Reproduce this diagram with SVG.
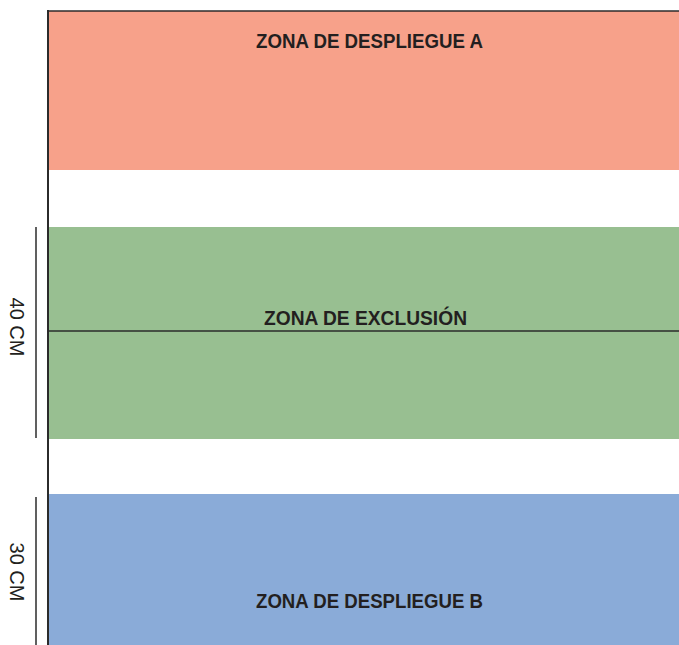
<svg xmlns="http://www.w3.org/2000/svg" width="679" height="645" viewBox="0 0 679 645">
<style>
.zl{font-family:"Liberation Sans",Arial,sans-serif;font-weight:bold;font-size:19.5px;fill:#231f20;text-anchor:middle}
.dim{font-family:"Liberation Sans",Arial,sans-serif;font-size:20px;fill:#231f20;text-anchor:middle}
.ln{stroke:#2b2b2b;fill:none}
</style>
<rect width="679" height="645" fill="#ffffff"/>
<g id="zona-a">
<rect x="48" y="11" width="631" height="159" fill="#f7a18a"/>
<text class="zl" x="369.5" y="48" textLength="227" lengthAdjust="spacingAndGlyphs">ZONA DE DESPLIEGUE A</text>
</g>
<g id="zona-exclusion">
<rect x="48" y="227" width="631" height="212" fill="#98bf91"/>
<text class="zl" x="365.5" y="325" textLength="203" lengthAdjust="spacingAndGlyphs">ZONA DE EXCLUSIÓN</text>
</g>
<g id="zona-b">
<rect x="48" y="494" width="631" height="151" fill="#8aabd8"/>
<text class="zl" x="369.5" y="608" textLength="227" lengthAdjust="spacingAndGlyphs">ZONA DE DESPLIEGUE B</text>
</g>
<g id="connectors">
<line class="ln" x1="48" y1="10" x2="48" y2="645" stroke-width="2"/>
<line class="ln" x1="47" y1="11" x2="679" y2="11" stroke-width="1.6"/>
<line class="ln" x1="48" y1="331" x2="679" y2="331" stroke-width="1.5"/>
<line class="ln" x1="36" y1="227" x2="36" y2="438" stroke-width="1.5" stroke="#444"/>
<line class="ln" x1="36" y1="497" x2="36" y2="645" stroke-width="1.5" stroke="#444"/>
</g>
<g id="dim-40">
<text class="dim" x="10" y="327" transform="rotate(90 10 327)">40 CM</text>
</g>
<g id="dim-30">
<text class="dim" x="10" y="572" transform="rotate(90 10 572)">30 CM</text>
</g>
</svg>
